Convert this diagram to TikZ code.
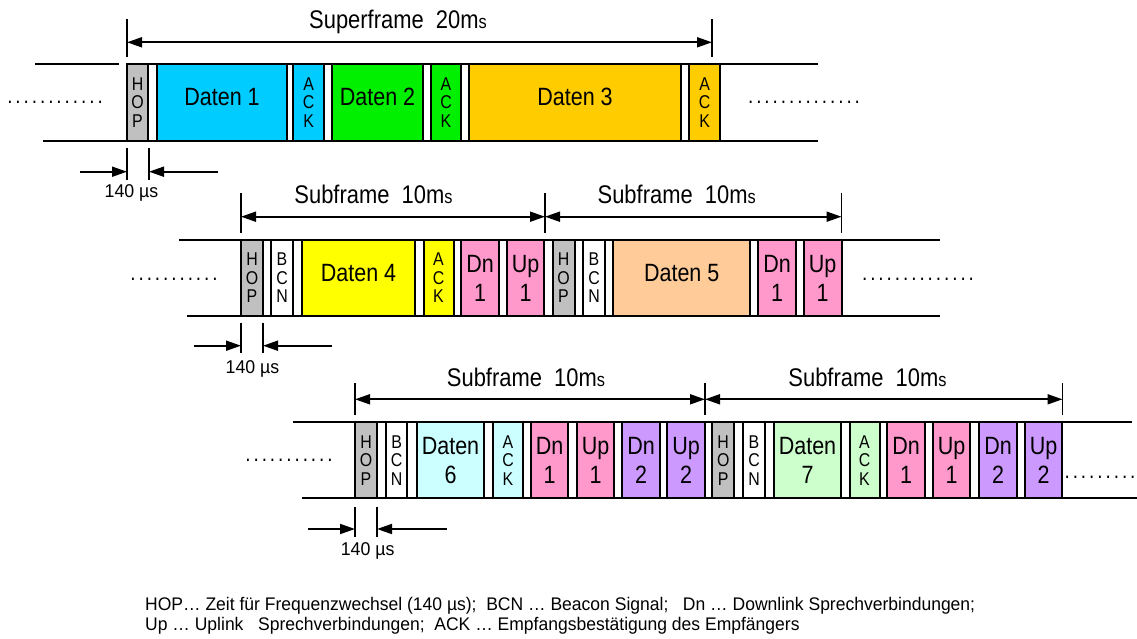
\documentclass[tikz,border=0pt]{standalone}
\usepackage{fontspec}
\setmainfont{Liberation Sans}[FakeStretch=0.86]
\newfontfamily\widefont{Liberation Sans}[FakeStretch=0.96]
\usetikzlibrary{arrows.meta}

\definecolor{hopgray}{HTML}{C0C0C0}
\definecolor{cyanA}{HTML}{00CCFF}
\definecolor{greenA}{HTML}{00F000}
\definecolor{goldA}{HTML}{FFCC00}
\definecolor{yellowA}{HTML}{FFFF00}
\definecolor{pinkA}{HTML}{FF99CC}
\definecolor{peachA}{HTML}{FFCC99}
\definecolor{lcyanA}{HTML}{CCFFFF}
\definecolor{lilacA}{HTML}{CC99FF}
\definecolor{lgreenA}{HTML}{CCFFCC}

\newcommand{\dotrow}[1]{\foreach \i in {1,...,#1}{\makebox[8.2pt]{.}}}
\newcommand{\msunit}{m{\fontsize{19}{19}\selectfont s}}

\begin{document}
\begin{tikzpicture}[x=1pt, y=-1pt,
    slot/.style={draw, line width=2pt, inner sep=0pt, align=center,
      font=\fontsize{25}{29}\selectfont},
    data/.style={slot, text depth=11pt},
    stack/.style={slot, font=\fontsize{18.5}{18.5}\selectfont},
    band/.style={line width=2pt},
    tick/.style={line width=1.5pt},
    dim/.style={line width=1.8pt, {Triangle[length=15pt,width=10pt]}-{Triangle[length=15pt,width=10pt]}},
    lead/.style={line width=1.8pt, -{Triangle[length=15pt,width=10pt]}},
    label/.style={anchor=base, font=\fontsize{25.5}{28}\selectfont},
    small/.style={anchor=base, font=\widefont\fontsize{18.5}{20}\selectfont},
    dots/.style={anchor=base, font=\fontsize{22}{22}\selectfont, inner sep=0pt},
    legend/.style={anchor=base west, inner sep=0pt, font=\widefont\fontsize{18.25}{20}\selectfont}]
  \useasboundingbox (0,0) rectangle (1137,639);

  % row 1 : superframe
  \draw[band] (35,64) -- (119,64);
  \draw[band] (127,64) -- (818,64);
  \draw[band] (43,140.7) -- (818,140.7);
  \node[stack, fill=hopgray, minimum width=21pt, minimum height=76.5pt] (hopA) at (137.5,102.3) {H\\O\\P};
  \node[data, fill=cyanA, minimum width=130pt, minimum height=76.5pt] (datA) at (222,102.3) {Daten 1};
  \node[stack, fill=cyanA, minimum width=30.5pt, minimum height=76.5pt] (ackA) at (308.7,102.3) {A\\C\\K};
  \node[data, fill=greenA, minimum width=91pt, minimum height=76.5pt] (datB) at (377.5,102.3) {Daten 2};
  \node[stack, fill=greenA, minimum width=30pt, minimum height=76.5pt] (ackB) at (446,102.3) {A\\C\\K};
  \node[data, fill=goldA, minimum width=212pt, minimum height=76.5pt] (datC) at (575,102.3) {Daten 3};
  \node[stack, fill=goldA, minimum width=30.5pt, minimum height=76.5pt] (ackC) at (704.7,102.3) {A\\C\\K};
  \node[dots] (dotA) at (55,104) {\dotrow{12}};
  \node[dots] (dotB) at (804,104) {\dotrow{14}};

  \coordinate (sfL) at (127,42.3);
  \coordinate (sfR) at (712,42.3);
  \draw[tick] (127,19) -- (127,57);
  \draw[tick] (712,19) -- (712,57);
  \draw[dim] (sfL) -- (sfR);
  \node[label] (sfText) at (398,28.3) {Superframe\ \ 20\msunit};

  \coordinate (gA1) at (127,171.7);
  \coordinate (gA2) at (149,171.7);
  \coordinate (gA0) at (80,171.7);
  \coordinate (gA3) at (218,171.7);
  \draw[tick] (127,148) -- (127,180);
  \draw[tick] (149,148) -- (149,180);
  \draw[lead] (gA0) -- (gA1);
  \draw[lead] (gA3) -- (gA2);
  \node[small] (gAText) at (131.5,197) {140 µs};

  % row 2 : two subframes
  \draw[band] (179,240) -- (940,240);
  \draw[band] (187,316) -- (940,316);
  \node[stack, fill=hopgray, minimum width=22pt, minimum height=76pt] (hopB) at (252,278) {H\\O\\P};
  \node[stack, fill=white, minimum width=22pt, minimum height=76pt] (bcnA) at (282,278) {B\\C\\N};
  \node[data, fill=yellowA, minimum width=113pt, minimum height=76pt] (datD) at (358.5,278) {Daten 4};
  \node[stack, fill=yellowA, minimum width=30pt, minimum height=76pt] (ackD) at (438.5,278) {A\\C\\K};
  \node[slot, fill=pinkA, minimum width=38pt, minimum height=76pt] (dnA) at (480,278) {Dn\\1};
  \node[slot, fill=pinkA, minimum width=37.5pt, minimum height=76pt] (upA) at (525.7,278) {Up\\1};
  \node[stack, fill=hopgray, minimum width=22pt, minimum height=76pt] (hopC) at (563.5,278) {H\\O\\P};
  \node[stack, fill=white, minimum width=22pt, minimum height=76pt] (bcnB) at (594,278) {B\\C\\N};
  \node[data, fill=peachA, minimum width=136.5pt, minimum height=76pt] (datE) at (681.7,278) {Daten 5};
  \node[slot, fill=pinkA, minimum width=38pt, minimum height=76pt] (dnB) at (777,278) {Dn\\1};
  \node[slot, fill=pinkA, minimum width=38pt, minimum height=76pt] (upB) at (822.5,278) {Up\\1};
  \node[dots] (dotC) at (174,280) {\dotrow{11}};
  \node[dots] (dotD) at (918,280) {\dotrow{14}};

  \coordinate (sbA) at (241,216.7);
  \coordinate (sbB) at (545,216.7);
  \coordinate (sbC) at (841.5,216.7);
  \draw[tick] (241,193) -- (241,232.7);
  \draw[tick] (545,193) -- (545,232.7);
  \draw[tick] (841.5,193) -- (841.5,232.7);
  \draw[dim] (sbA) -- (sbB);
  \draw[dim] (sbB) -- (sbC);
  \node[label] (sbText1) at (373.5,204) {Subframe\ \ 10\msunit};
  \node[label] (sbText2) at (676.7,204) {Subframe\ \ 10\msunit};

  \coordinate (gB1) at (241,345.7);
  \coordinate (gB2) at (263,345.7);
  \coordinate (gB0) at (194,345.7);
  \coordinate (gB3) at (332,345.7);
  \draw[tick] (241,322.7) -- (241,353);
  \draw[tick] (263,322.7) -- (263,353);
  \draw[lead] (gB0) -- (gB1);
  \draw[lead] (gB3) -- (gB2);
  \node[small] (gBText) at (252.5,373) {140 µs};

  % row 3 : two subframes with two talk channels
  \draw[band] (293,422) -- (1132,422);
  \draw[band] (302,498.3) -- (1137,498.3);
  \node[stack, fill=hopgray, minimum width=22pt, minimum height=76.3pt] (hopD) at (366,460.2) {H\\O\\P};
  \node[stack, fill=white, minimum width=21.5pt, minimum height=76.3pt] (bcnC) at (396.7,460.2) {B\\C\\N};
  \node[slot, fill=lcyanA, minimum width=67pt, minimum height=76.3pt] (datF) at (450.5,460.2) {Daten\\6};
  \node[stack, fill=lcyanA, minimum width=30pt, minimum height=76.3pt] (ackF) at (508,460.2) {A\\C\\K};
  \node[slot, fill=pinkA, minimum width=37.5pt, minimum height=76.3pt] (dnC) at (549.7,460.2) {Dn\\1};
  \node[slot, fill=pinkA, minimum width=37pt, minimum height=76.3pt] (upC) at (595.5,460.2) {Up\\1};
  \node[slot, fill=lilacA, minimum width=37.5pt, minimum height=76.3pt] (dnD) at (641.2,460.2) {Dn\\2};
  \node[slot, fill=lilacA, minimum width=37.5pt, minimum height=76.3pt] (upD) at (686.2,460.2) {Up\\2};
  \node[stack, fill=hopgray, minimum width=21.5pt, minimum height=76.3pt] (hopE) at (723.2,460.2) {H\\O\\P};
  \node[stack, fill=white, minimum width=22pt, minimum height=76.3pt] (bcnD) at (754,460.2) {B\\C\\N};
  \node[slot, fill=lgreenA, minimum width=67pt, minimum height=76.3pt] (datG) at (807.5,460.2) {Daten\\7};
  \node[stack, fill=lgreenA, minimum width=30pt, minimum height=76.3pt] (ackG) at (864.5,460.2) {A\\C\\K};
  \node[slot, fill=pinkA, minimum width=37.5pt, minimum height=76.3pt] (dnE) at (906.2,460.2) {Dn\\1};
  \node[slot, fill=pinkA, minimum width=37pt, minimum height=76.3pt] (upE) at (951.5,460.2) {Up\\1};
  \node[slot, fill=lilacA, minimum width=38pt, minimum height=76.3pt] (dnF) at (998,460.2) {Dn\\2};
  \node[slot, fill=lilacA, minimum width=37.5pt, minimum height=76.3pt] (upF) at (1043.7,460.2) {Up\\2};
  \node[dots] (dotE) at (289,461) {\dotrow{11}};
  \node[dots] (dotF) at (1100,478) {\dotrow{9}};

  \coordinate (scA) at (355,399.3);
  \coordinate (scB) at (705,399.3);
  \coordinate (scC) at (1062.5,399.3);
  \draw[tick] (355,383) -- (355,415);
  \draw[tick] (705,383) -- (705,415);
  \draw[tick] (1062.5,383) -- (1062.5,415);
  \draw[dim] (scA) -- (scB);
  \draw[dim] (scB) -- (scC);
  \node[label] (scText1) at (526,386) {Subframe\ \ 10\msunit};
  \node[label] (scText2) at (867.5,386) {Subframe\ \ 10\msunit};

  \coordinate (gC1) at (355,529);
  \coordinate (gC2) at (377,529);
  \coordinate (gC0) at (308,529);
  \coordinate (gC3) at (446.7,529);
  \draw[tick] (355,506.7) -- (355,536.7);
  \draw[tick] (377,506.7) -- (377,536.7);
  \draw[lead] (gC0) -- (gC1);
  \draw[lead] (gC3) -- (gC2);
  \node[small] (gCText) at (367.7,555) {140 µs};

  % legend
  \node[legend] (legA) at (145,610) {HOP… Zeit für Frequenzwechsel (140 µs);\ \ BCN … Beacon Signal;\ \ \ Dn … Downlink Sprechverbindungen;};
  \node[legend] (legB) at (145,630.5) {Up … Uplink\ \ \ Sprechverbindungen;\ \ ACK … Empfangsbestätigung des Empfängers};
\end{tikzpicture}
\end{document}
